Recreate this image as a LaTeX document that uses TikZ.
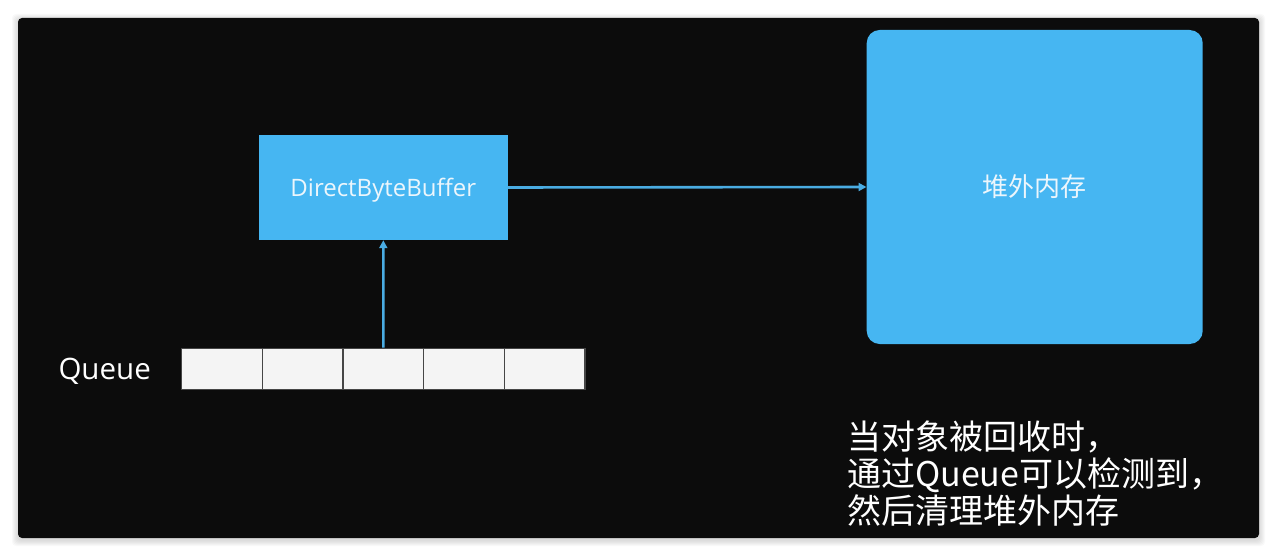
\documentclass[tikz,border=0pt]{standalone}
\usepackage{fontspec}
\setmainfont{Open Sans}
\newfontfamily\cjkfont{Noto Sans CJK SC}
\usetikzlibrary{arrows.meta,positioning}

\definecolor{boardblack}{RGB}{12,12,12}
\definecolor{boxblue}{RGB}{70,182,242}
\definecolor{lineblue}{RGB}{74,172,226}
\definecolor{cellgray}{RGB}{244,244,244}
\definecolor{celledge}{RGB}{70,70,70}
\definecolor{textwhite}{RGB}{236,246,252}

\def\cellwidth{80.66}

\begin{document}
\begin{tikzpicture}[x=1pt,y=-1pt,>={Triangle[length=8pt,width=8pt]}]
      \tikzstyle{box}=[rectangle, fill=boxblue, text=textwhite, inner sep=0pt]
      \tikzstyle{cell}=[rectangle, draw=celledge, line width=1.5pt, fill=cellgray, minimum width=\cellwidth pt, minimum height=41pt, inner sep=0pt]
      \tikzstyle{annot}=[text=white, inner sep=0pt]
      \tikzstyle{link}=[->, draw=lineblue, line width=2.6pt]

      \useasboundingbox (0,0) rectangle (1277,556);

      % Draw the board with its soft shadow
      \foreach \s in {1,...,6}
          \fill[black, opacity=0.025, rounded corners=4pt] (18-\s,18-\s+2) rectangle (1259+\s,538+\s+2);
      \fill[boardblack, rounded corners=4pt] (18,18) rectangle (1259,538);

      % Draw the buffer and the off-heap memory
      \node[box, minimum width=248.7pt, minimum height=105pt, text depth=0pt, font=\fontsize{24}{28}\selectfont] (DBB) at (383.3,187.5) {DirectByteBuffer};
      \node[box, rounded corners=13pt, minimum width=336pt, minimum height=314pt, font=\cjkfont\fontsize{26}{30}\selectfont] (OFFHEAP) at (1034.7,187) {堆外内存};

      % Draw the queue cells
      \foreach \i in {1,...,5}
          \node[cell] (Q-\i) at ({181.7+(\i-0.5)*\cellwidth},368.8) {};
      \node[annot, anchor=base east, font=\fontsize{29.5}{32}\selectfont] (QLABEL) at (151,379) {Queue};

      % Connect the queue to the buffer, and the buffer to the memory
      \draw[link] (Q-3.north) -- (DBB.south);
      \draw[link] (DBB.east) -- (OFFHEAP.west);

      % Annotate
      \node[annot, anchor=north west, align=left, font=\cjkfont\fontsize{34}{37}\selectfont] (NOTE) at (847,421) {当对象被回收时，\\通过Queue可以检测到，\\然后清理堆外内存};
  \end{tikzpicture}
\end{document}
